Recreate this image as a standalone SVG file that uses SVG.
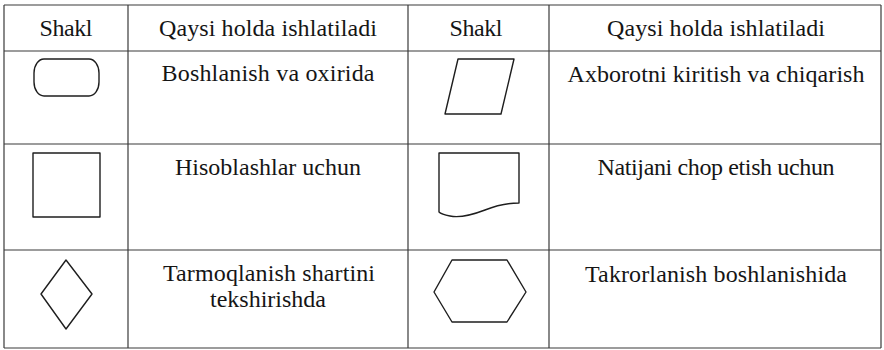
<svg xmlns="http://www.w3.org/2000/svg" width="884" height="350" viewBox="0 0 884 350">
<style>
.grid line{stroke:#3a3a3a;stroke-width:1.2}
.shape{fill:none;stroke:#1e1e1e;stroke-width:1.4;stroke-linejoin:round}
.t{font-family:"Times New Roman","Liberation Serif",Tinos,"Noto Serif","DejaVu Serif",serif;font-size:24px;fill:#151515;text-anchor:middle}
</style>
<rect width="884" height="350" fill="#fff"/>
<g id="grid" class="grid">
<line x1="4" y1="5" x2="881" y2="5"/>
<line x1="4" y1="51" x2="881" y2="51"/>
<line x1="4" y1="144" x2="881" y2="144"/>
<line x1="4" y1="250" x2="881" y2="250"/>
<line x1="4" y1="348" x2="881" y2="348"/>
<line x1="4" y1="5" x2="4" y2="348"/>
<line x1="128" y1="5" x2="128" y2="348"/>
<line x1="408" y1="5" x2="408" y2="348"/>
<line x1="549" y1="5" x2="549" y2="348"/>
<line x1="881" y1="5" x2="881" y2="348"/>
</g>
<g id="header">
<text class="t" x="66" y="36" textLength="53" lengthAdjust="spacing">Shakl</text>
<text class="t" x="268" y="36" textLength="218" lengthAdjust="spacing">Qaysi holda ishlatiladi</text>
<text class="t" x="476" y="36" textLength="53" lengthAdjust="spacing">Shakl</text>
<text class="t" x="716" y="36" textLength="218" lengthAdjust="spacing">Qaysi holda ishlatiladi</text>
</g>
<g id="terminator">
<rect class="shape" x="34" y="59" width="65" height="37" rx="10" ry="14"/>
<text class="t" x="268" y="81" textLength="213" lengthAdjust="spacing">Boshlanish va oxirida</text>
</g>
<g id="process">
<rect class="shape" x="33" y="153" width="67" height="64"/>
<text class="t" x="268" y="175" textLength="186" lengthAdjust="spacing">Hisoblashlar uchun</text>
</g>
<g id="decision">
<polygon class="shape" points="66,260 92,294 66,329 41,294"/>
<text class="t" x="269" y="281" textLength="212" lengthAdjust="spacing">Tarmoqlanish shartini</text>
<text class="t" x="268" y="307" textLength="116" lengthAdjust="spacing">tekshirishda</text>
</g>
<g id="io">
<polygon class="shape" points="458,59 514,59 501,114 445,114"/>
<text class="t" x="716" y="82" textLength="297" lengthAdjust="spacing">Axborotni kiritish va chiqarish</text>
</g>
<g id="document">
<path class="shape" d="M439,212 L439,153 L519,153 L519,203 C505,203 495,206 485,210 C472,215 460,218 450,216 C445,215 441,214 439,212 Z"/>
<text class="t" x="716" y="175" textLength="237" lengthAdjust="spacing">Natijani chop etish uchun</text>
</g>
<g id="preparation">
<polygon class="shape" points="452,260 507,260 526,292 507,322 452,322 434,292"/>
<text class="t" x="716" y="282" textLength="262" lengthAdjust="spacing">Takrorlanish boshlanishida</text>
</g>
</svg>
